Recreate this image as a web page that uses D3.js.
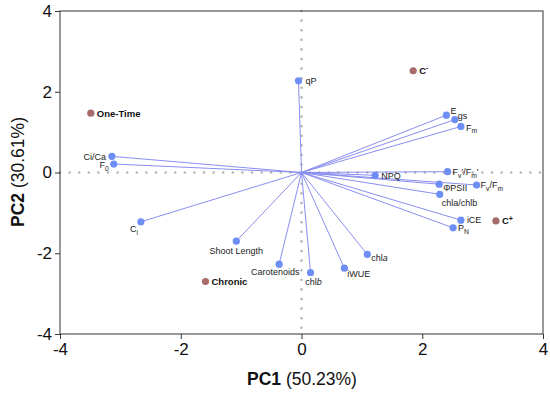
<!DOCTYPE html>
<html><head><meta charset="utf-8">
<script src="https://cdn.jsdelivr.net/npm/d3@7"></script>
<style>body{margin:0;background:#fff}svg{display:block;font-family:"Liberation Sans",Arial,sans-serif}</style>
</head><body><svg id="c" width="550" height="396"></svg>
<script>
// ---- data ----
const loadingNames = ["qP","E","gs","F_{m}","NPQ","F_{v}'/F_{m}'","ΦPSII","F_{v}/F_{m}","chla/chlb","iCE","P_{N}","Ci/Ca","F_{0}","C_{i}","Shoot Length","Carotenoids","chl*{b}","iWUE","chl*{a}"];
const loadingPC1 = [-0.05,2.40,2.54,2.64,1.22,2.42,2.28,2.90,2.29,2.64,2.51,-3.14,-3.11,-2.66,-1.08,-0.37,0.15,0.71,1.09];
const loadingPC2 = [2.27,1.42,1.31,1.14,-0.07,0.02,-0.29,-0.31,-0.54,-1.18,-1.37,0.40,0.21,-1.22,-1.70,-2.27,-2.48,-2.37,-2.03];
const groupNames = ["C^{-}","One-Time","C^{+}","Chronic"];
const groupPC1 = [1.85,-3.49,3.22,-1.59];
const groupPC2 = [2.52,1.47,-1.20,-2.70];
const xTicks = [-4,-2,0,2,4];
const yTicks = [-4,-2,0,2,4];

// ---- label placement (layout only) ----
const place = {
  "qP":[7,0,"start"],"E":[4,-4,"start"],"gs":[3,-4,"start"],"F_{m}":[5,1,"start"],
  "NPQ":[6,0,"start"],"F_{v}'/F_{m}'":[5,0,"start"],"ΦPSII":[4,4,"start"],
  "F_{v}/F_{m}":[4,0,"start"],"chla/chlb":[2,8,"start"],"iCE":[6,0,"start"],
  "P_{N}":[5,0,"start"],"Ci/Ca":[-6,0,"end"],"F_{0}":[-5,1,"end"],"C_{i}":[-3,7,"end"],
  "Shoot Length":[0,10,"middle"],"Carotenoids":[-4,8,"middle"],"chl*{b}":[3,9,"middle"],
  "iWUE":[3,6,"start"],"chl*{a}":[4,3,"start"]
};

const svg = d3.select("#c");
const x = d3.scaleLinear().domain([-4,4]).range([60,543]);
const y = d3.scaleLinear().domain([-4,4]).range([334,11]);

// rich text: _{sub} ^{sup} *{italic}
function rich(textSel, s, fs){
  const re = /([_^*])\{([^}]*)\}|([^_^*]+)/g;
  let m, shift = 0;
  while((m = re.exec(s))){
    let target = 0, size = fs, italic = false, str;
    if(m[3] !== undefined){ str = m[3]; }
    else { str = m[2];
      if(m[1]==="_"){ target = fs*0.3; size = fs*0.75; }
      else if(m[1]==="^"){ target = -fs*0.4; size = fs*0.75; }
      else italic = true;
    }
    const t = textSel.append("tspan").attr("dy", target-shift).attr("font-size", size).text(str);
    if(italic) t.attr("font-style","italic");
    shift = target;
  }
}

// dotted zero lines
svg.append("line").attr("x1",x(-4)).attr("x2",x(4)).attr("y1",y(0)).attr("y2",y(0))
  .attr("stroke","#b3b3b3").attr("stroke-width",2.6).attr("stroke-linecap","round").attr("stroke-dasharray","0,9.6");
svg.append("line").attr("x1",x(0)).attr("x2",x(0)).attr("y1",y(4)).attr("y2",y(-4))
  .attr("stroke","#b3b3b3").attr("stroke-width",2.6).attr("stroke-linecap","round").attr("stroke-dasharray","0,9.6");

// axes
const xa = svg.append("g").attr("transform",`translate(0,${y(-4)})`)
  .call(d3.axisBottom(x).tickValues(xTicks).tickSize(5).tickPadding(4).tickFormat(d=>String(d)));
const ya = svg.append("g").attr("transform",`translate(${x(-4)},0)`)
  .call(d3.axisLeft(y).tickValues(yTicks).tickSize(5).tickPadding(3).tickFormat(d=>String(d)));
[xa,ya].forEach(a=>{a.select(".domain").remove();
  a.selectAll(".tick line").attr("stroke","#333");
  a.selectAll(".tick text").attr("font-size",17).attr("fill","#111").attr("font-family","Liberation Sans, Arial, sans-serif");});
svg.append("rect").attr("x",x(-4)).attr("y",y(4)).attr("width",x(4)-x(-4)).attr("height",y(-4)-y(4))
  .attr("fill","none").attr("stroke","#333").attr("stroke-width",1);

// axis titles
const xt = svg.append("text").attr("x",302).attr("y",385).attr("text-anchor","middle").attr("font-size",17.5).attr("fill","#111");
xt.append("tspan").attr("font-weight","bold").text("PC1");
xt.append("tspan").text(" (50.23%)");
const yt = svg.append("text").attr("transform","translate(24,172) rotate(-90)").attr("text-anchor","middle").attr("font-size",17.5).attr("fill","#111");
yt.append("tspan").attr("font-weight","bold").text("PC2");
yt.append("tspan").text(" (30.61%)");

// loading vectors
const loadings = loadingNames.map((n,i)=>({n, px:loadingPC1[i], py:loadingPC2[i]}));
svg.append("g").selectAll("line").data(loadings).join("line")
  .attr("x1",x(0)).attr("y1",y(0)).attr("x2",d=>x(d.px)).attr("y2",d=>y(d.py))
  .attr("stroke","#8a8ef0").attr("stroke-width",1);
svg.append("g").selectAll("circle").data(loadings).join("circle")
  .attr("cx",d=>x(d.px)).attr("cy",d=>y(d.py)).attr("r",3.6).attr("fill","#6d8ef5");
loadings.forEach(d=>{
  const p = place[d.n] || [5,0,"start"];
  const t = svg.append("text").attr("x",x(d.px)+p[0]).attr("y",y(d.py)+p[1]+3.2)
    .attr("text-anchor",p[2]).attr("font-size",9).attr("fill","#222");
  rich(t, d.n, 9);
});

// group scores
const groups = groupNames.map((n,i)=>({n, px:groupPC1[i], py:groupPC2[i]}));
svg.append("g").selectAll("circle").data(groups).join("circle")
  .attr("cx",d=>x(d.px)).attr("cy",d=>y(d.py)).attr("r",3.6).attr("fill","#a86b6b");
groups.forEach(d=>{
  const t = svg.append("text").attr("x",x(d.px)+6).attr("y",y(d.py)+3.4)
    .attr("font-size",9.5).attr("font-weight","bold").attr("fill","#111");
  rich(t, d.n, 9.5);
});
</script></body></html>
